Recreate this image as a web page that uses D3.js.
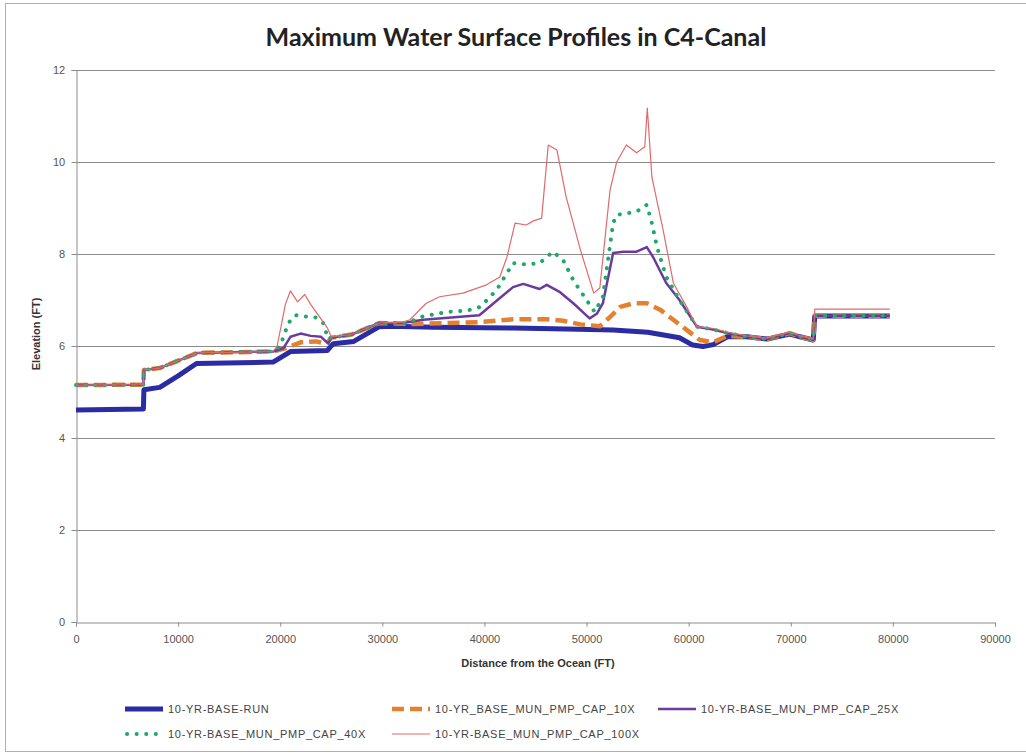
<!DOCTYPE html>
<html>
<head>
<meta charset="utf-8">
<script src="https://cdn.jsdelivr.net/npm/d3@7"></script>
<style>
  body { margin: 0; background: #fff; }
  svg text { font-family: "Liberation Sans", Arial, sans-serif; }
</style>
</head>
<body>
<div id="main"></div>
<script>
// distance from ocean (ft), elevation (ft)
const baseRun = [[0,4.61],[6600,4.63],[6650,5.05],[8200,5.1],[10000,5.35],[11800,5.62],[19300,5.65],[21000,5.88],[24600,5.9],[25200,6.05],[27200,6.1],[29700,6.42],[31000,6.43],[35000,6.41],[42800,6.39],[48000,6.37],[52600,6.35],[56000,6.3],[59100,6.18],[60400,6.02],[61400,5.99],[62400,6.03],[63800,6.2],[65700,6.2],[67700,6.15],[69900,6.26],[70900,6.2],[72200,6.13],[72350,6.65],[79700,6.65]];

const cap10 = [[0,5.15],[6600,5.16],[6650,5.48],[8200,5.52],[11900,5.85],[19300,5.88],[20500,5.95],[22000,6.08],[23500,6.1],[24500,6.05],[25000,6.18],[27000,6.25],[29700,6.5],[33000,6.48],[36300,6.5],[39500,6.52],[42800,6.58],[46100,6.58],[47700,6.55],[49400,6.47],[51300,6.43],[52300,6.63],[53300,6.85],[54600,6.93],[55900,6.93],[57200,6.79],[58500,6.57],[59800,6.35],[61100,6.13],[62400,6.08],[63800,6.22],[65700,6.2],[67700,6.15],[69900,6.28],[70900,6.2],[72200,6.13],[72350,6.66],[79700,6.66]];

const cap25 = [[0,5.15],[6600,5.16],[6650,5.48],[8200,5.52],[11900,5.85],[19300,5.88],[20300,5.95],[21000,6.2],[22000,6.27],[23000,6.22],[24000,6.2],[24700,6.05],[25000,6.18],[27000,6.25],[29700,6.5],[32000,6.5],[34000,6.57],[39500,6.67],[40900,6.93],[42800,7.28],[43800,7.35],[45400,7.24],[46100,7.33],[47400,7.17],[48700,6.93],[50300,6.6],[51000,6.7],[51600,6.93],[52600,8.02],[53600,8.05],[54900,8.05],[55900,8.15],[56500,7.94],[57800,7.37],[59100,7.0],[60800,6.42],[62400,6.36],[63800,6.28],[65700,6.2],[67700,6.15],[69900,6.28],[70900,6.2],[72200,6.13],[72350,6.66],[79700,6.66]];

const cap40 = [[0,5.15],[6600,5.16],[6650,5.48],[8200,5.52],[11900,5.85],[19300,5.88],[20000,6.0],[20800,6.5],[21500,6.67],[22500,6.64],[23500,6.62],[24200,6.5],[24700,6.15],[25000,6.18],[27000,6.25],[29700,6.5],[32500,6.5],[33700,6.63],[36300,6.74],[38300,6.77],[39600,6.85],[41200,7.22],[42800,7.8],[44100,7.77],[45400,7.8],[46700,8.05],[47700,7.87],[48700,7.43],[50000,7.0],[50800,6.74],[51600,7.07],[52600,8.67],[52950,8.85],[54900,8.92],[55900,9.07],[56400,8.67],[56900,8.15],[57800,7.5],[59100,7.0],[60800,6.42],[62400,6.36],[63800,6.28],[65700,6.2],[67700,6.15],[69900,6.28],[70900,6.2],[72200,6.13],[72350,6.66],[79700,6.66]];

const cap100 = [[0,5.15],[6600,5.16],[6650,5.48],[8200,5.52],[11900,5.85],[19300,5.88],[19700,6.0],[20500,6.9],[21000,7.2],[21700,6.96],[22400,7.12],[23000,6.9],[24600,6.4],[25000,6.2],[27000,6.25],[29700,6.5],[32000,6.52],[32700,6.57],[34300,6.93],[35600,7.07],[37900,7.15],[40200,7.33],[41500,7.5],[42200,7.93],[43000,8.67],[44100,8.63],[44800,8.72],[45600,8.78],[46250,10.37],[47100,10.26],[48000,9.24],[49400,8.09],[50700,7.15],[51300,7.26],[52300,9.39],[52950,10.0],[53900,10.37],[54900,10.2],[55700,10.33],[55950,11.17],[56400,9.67],[57500,8.52],[58500,7.37],[59800,6.85],[60800,6.42],[62400,6.38],[63800,6.3],[65700,6.22],[67700,6.17],[69900,6.3],[70900,6.22],[72200,6.15],[72350,6.8],[79700,6.8]];

const seriesNames = ["10-YR-BASE-RUN", "10-YR_BASE_MUN_PMP_CAP_10X", "10-YR-BASE_MUN_PMP_CAP_25X", "10-YR-BASE_MUN_PMP_CAP_40X", "10-YR-BASE_MUN_PMP_CAP_100X"];
const xTicks = [0, 10000, 20000, 30000, 40000, 50000, 60000, 70000, 80000, 90000];
const yTicks = [0, 2, 4, 6, 8, 10, 12];

const width = 1026;
const height = 755;
const margin = {top: 70, right: 31, bottom: 133, left: 76};

const styles = [
    {color: "#2b2ba3", width: 5, dash: null, cap: "butt"},
    {color: "#e4812f", width: 4.5, dash: "12 6", cap: "butt"},
    {color: "#6b3a9e", width: 2.5, dash: null, cap: "butt"},
    {color: "#1fa86c", width: 4, dash: "0.1 9.5", cap: "round"},
    {color: "#e06a6a", width: 1.2, dash: null, cap: "butt"}
];
const allSeries = [baseRun, cap10, cap25, cap40, cap100];

const svg = d3.select("#main")
    .append("svg")
    .attr("width", width)
    .attr("height", height);

svg.append("rect")
    .attr("x", 5.5).attr("y", 3.5)
    .attr("width", width + 10).attr("height", 748)
    .attr("fill", "#fff")
    .attr("stroke", "#b0b0b0");

const x = d3.scaleLinear()
    .domain([0, 90000])
    .range([margin.left, 995]);
const y = d3.scaleLinear()
    .domain([0, 12])
    .range([height - margin.bottom, margin.top]);

// gridlines
svg.append("g")
    .selectAll("line")
    .data(yTicks.filter(d => d > 0))
    .join("line")
    .attr("x1", x(0)).attr("x2", x(90000))
    .attr("y1", d => Math.round(y(d)) + 0.5)
    .attr("y2", d => Math.round(y(d)) + 0.5)
    .attr("stroke", "#8c8c8c");

const xAxis = svg.append("g")
    .attr("transform", "translate(0," + (Math.round(y(0)) + 0.5) + ")")
    .call(d3.axisBottom(x).tickValues(xTicks).tickSize(4).tickFormat(d3.format("d")));
const yAxis = svg.append("g")
    .attr("transform", "translate(" + (x(0) + 0.5) + ",0)")
    .call(d3.axisLeft(y).tickValues(yTicks).tickSize(5).tickFormat(d3.format("d")));

[xAxis, yAxis].forEach(g => {
    g.select(".domain").attr("stroke", "#8c8c8c");
    g.selectAll(".tick line").attr("stroke", "#8c8c8c");
    g.selectAll(".tick text")
        .attr("fill", "#555")
        .style("font-size", "11px");
});
xAxis.selectAll(".tick text").attr("dy", "1.2em");
yAxis.selectAll(".tick text").attr("dx", "-0.3em");

const line = d3.line()
    .x(d => x(d[0]))
    .y(d => y(d[1]));

allSeries.forEach((s, i) => {
    svg.append("path")
        .datum(s)
        .attr("fill", "none")
        .attr("stroke", styles[i].color)
        .attr("stroke-width", styles[i].width)
        .attr("stroke-dasharray", styles[i].dash)
        .attr("stroke-linecap", styles[i].cap)
        .attr("stroke-linejoin", "round")
        .attr("d", line);
});

svg.append("text")
    .attr("x", 516)
    .attr("y", 46)
    .attr("text-anchor", "middle")
    .style("font-family", "Lato, 'Open Sans', sans-serif")
    .style("font-weight", "bold")
    .style("font-size", "25px")
    .attr("fill", "#222")
    .text("Maximum Water Surface Profiles in C4-Canal");

svg.append("text")
    .attr("x", 538)
    .attr("y", 667)
    .attr("text-anchor", "middle")
    .style("font-weight", "bold")
    .style("font-size", "11px")
    .attr("fill", "#333")
    .text("Distance  from the Ocean (FT)");

svg.append("text")
    .attr("transform", "translate(40,334) rotate(-90)")
    .attr("text-anchor", "middle")
    .style("font-weight", "bold")
    .style("font-size", "11px")
    .attr("fill", "#333")
    .text("Elevation (FT)");

// legend
const legendPos = [[125, 709], [392, 709], [658, 709], [125, 734], [392, 734]];
const legend = svg.append("g");
seriesNames.forEach((name, i) => {
    const [lx, ly] = legendPos[i];
    legend.append("line")
        .attr("x1", lx + (i === 3 ? 2 : 0)).attr("x2", lx + 38)
        .attr("y1", ly).attr("y2", ly)
        .attr("stroke", styles[i].color)
        .attr("stroke-width", styles[i].width)
        .attr("stroke-dasharray", styles[i].dash)
        .attr("stroke-linecap", styles[i].cap);
    legend.append("text")
        .attr("x", lx + 43)
        .attr("y", ly + 4)
        .style("font-size", "11px")
        .style("letter-spacing", "0.7px")
        .attr("fill", "#444")
        .text(name);
});
</script>
</body>
</html>
